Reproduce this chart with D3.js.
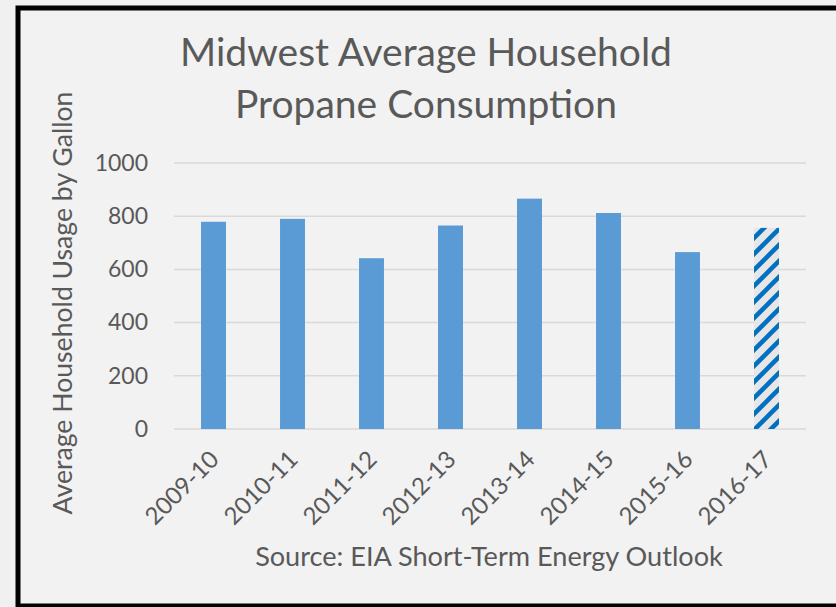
<!DOCTYPE html>
<html><head>
<meta charset="utf-8">
<title>Midwest propane</title>
<script src="https://cdn.jsdelivr.net/npm/d3@7/dist/d3.min.js"></script>
<style>
  body { margin: 0; background: #f0f0f0; }
  svg text { font-family: Lato, "Open Sans", sans-serif; fill: #595959; }
  .grid line { stroke: #d9d9d9; stroke-width: 1.5; }
</style>
</head>
<body>
<svg id="chart" width="836" height="607"></svg>

<script>
// data
var seasons = ["2009-10", "2010-11", "2011-12", "2012-13", "2013-14", "2014-15", "2015-16", "2016-17"]
var usage = [779, 790, 642, 765, 866, 812, 665, 756]
var forecast = [false, false, false, false, false, false, false, true]
var yTicks = [0, 200, 400, 600, 800, 1000]

var svg = d3.select("#chart")

// frame
svg.append("rect")
  .attr("x", 18).attr("y", 8)
  .attr("width", 840).attr("height", 598)
  .attr("fill", "#f2f2f2")
  .attr("stroke", "#000")
  .attr("stroke-width", 5)

// hatch for the forecast bar
var pat = svg.append("defs").append("pattern")
  .attr("id", "hatch")
  .attr("patternUnits", "userSpaceOnUse")
  .attr("width", 16).attr("height", 16)
pat.append("rect").attr("width", 16).attr("height", 16).attr("fill", "#e7e6e6")
pat.append("path")
  .attr("d", "M-4,4 L4,-4 M0,16 L16,0 M12,20 L20,12")
  .attr("stroke", "#0070c0").attr("stroke-width", 4.5)

var x = d3.scaleBand()
  .domain(seasons)
  .range([174, 806])
  .paddingInner(0.684)
  .paddingOuter(0.342)

var y = d3.scaleLinear()
  .domain([0, 1000])
  .range([429, 163])

// scale a text's font so its width matches the picture
function fit(sel, w) {
  var fs = parseFloat(sel.attr("font-size"))
  var len = sel.node().getComputedTextLength()
  sel.attr("font-size", fs * w / len)
}

// gridlines
var grid = svg.append("g").classed("grid", true)
grid.selectAll("line").data(yTicks).enter().append("line")
  .attr("x1", 174).attr("x2", 806)
  .attr("y1", function(d) { return y(d) })
  .attr("y2", function(d) { return y(d) })

// y axis labels
var yAxis = d3.axisLeft(y).tickValues(yTicks).tickFormat(d3.format("d")).tickSize(0).tickPadding(0)
var yg = svg.append("g").attr("transform", "translate(148,0)").call(yAxis)
yg.select(".domain").remove()
yg.attr("font-family", null)
yg.selectAll("text").attr("font-size", 23).style("fill", "#595959")

// bars
svg.selectAll(".bar").data(seasons).enter().append("rect")
  .attr("class", "bar")
  .attr("x", function(d) { return x(d) })
  .attr("width", x.bandwidth())
  .attr("y", function(d, i) { return y(usage[i]) })
  .attr("height", function(d, i) { return y(0) - y(usage[i]) })
  .attr("fill", function(d, i) { return forecast[i] ? "url(#hatch)" : "#5b9bd5" })

// x axis labels, rotated
svg.selectAll(".xlab").data(seasons).enter().append("text")
  .attr("class", "xlab")
  .attr("font-size", 24)
  .attr("text-anchor", "end")
  .attr("dy", "0.35em")
  .attr("transform", function(d) { return "translate(" + (x(d) + x.bandwidth() / 2 + 1) + ",455) rotate(-45)" })
  .text(function(d) { return d })

// titles
var t1 = svg.append("text").attr("x", 426).attr("y", 66).attr("text-anchor", "middle")
  .attr("font-size", 36).text("Midwest Average Household")
fit(t1, 492)
var t2 = svg.append("text").attr("x", 426).attr("y", 118).attr("text-anchor", "middle")
  .attr("font-size", 36).text("Propane Consumption")
fit(t2, 382)

var yl = svg.append("text").attr("text-anchor", "middle")
  .attr("transform", "translate(72,303) rotate(-90)")
  .attr("font-size", 24).text("Average Household Usage by Gallon")
fit(yl, 423)

var src = svg.append("text").attr("x", 489).attr("y", 566).attr("text-anchor", "middle")
  .attr("font-size", 24).text("Source: EIA Short-Term Energy Outlook")
fit(src, 468)
</script>
</body>
</html>
